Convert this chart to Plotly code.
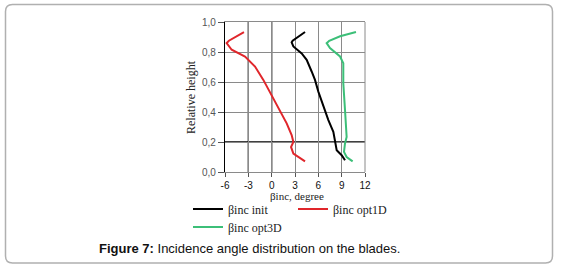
import plotly.graph_objects as go

# ---- data ----
height_init = [0.933, 0.905, 0.875, 0.864, 0.837, 0.79, 0.748, 0.67, 0.614, 0.536, 0.435, 0.346, 0.268, 0.212, 0.145, 0.112, 0.078]
beta_init = [4.29, 3.5, 2.7, 2.57, 2.79, 3.86, 4.5, 5.14, 5.57, 6.0, 6.64, 7.29, 7.93, 8.14, 8.36, 9.0, 9.43]

height_opt1d = [0.933, 0.9, 0.875, 0.859, 0.815, 0.77, 0.703, 0.614, 0.513, 0.413, 0.324, 0.246, 0.2, 0.167, 0.123, 0.071]
beta_opt1d = [-3.56, -4.6, -5.5, -5.79, -5.14, -3.43, -2.14, -1.07, 0.0, 1.07, 1.93, 2.57, 2.79, 2.49, 2.79, 4.29]

height_opt3d = [0.933, 0.905, 0.875, 0.859, 0.826, 0.77, 0.725, 0.592, 0.413, 0.234, 0.19, 0.134, 0.1, 0.071]
beta_opt3d = [10.84, 8.8, 7.4, 7.07, 7.5, 8.79, 9.21, 9.21, 9.43, 9.64, 9.43, 9.3, 9.64, 10.41]

x_ticks = [-6, -3, 0, 3, 6, 9, 12]
x_tick_labels = ["-6", "-3", "0", "3", "6", "9", "12"]
y_ticks = [0.0, 0.2, 0.4, 0.6, 0.8, 1.0]
y_tick_labels = ["0,0", "0,2", "0,4", "0,6", "0,8", "1,0"]

series_names = ["βinc init", "βinc opt1D", "βinc opt3D"]
series_colors = ["#000000", "#e0262b", "#3cbf78"]

# ---- geometry (screen pixels) ----
W, H = 562, 270
PL, PR, PT, PB = 225, 365, 22, 172  # plot area


def px(x):
    return (x - PL) / (PR - PL)


def py(y):
    return (PB - y) / (PB - PT)


fig = go.Figure()
fig.add_trace(go.Scatter(x=beta_init, y=height_init, mode="lines", name=series_names[0],
                         line=dict(color=series_colors[0], width=2), legend="legend"))
fig.add_trace(go.Scatter(x=beta_opt1d, y=height_opt1d, mode="lines", name=series_names[1],
                         line=dict(color=series_colors[1], width=2), legend="legend"))
fig.add_trace(go.Scatter(x=beta_opt3d, y=height_opt3d, mode="lines", name=series_names[2],
                         line=dict(color=series_colors[2], width=2), legend="legend2"))

shapes = []
# heavier black grid lines
for xv in [-3, 0]:
    shapes.append(dict(type="line", xref="x", yref="paper", x0=xv, x1=xv, y0=0, y1=1,
                       line=dict(color="#000000", width=1.3), layer="below"))
shapes.append(dict(type="line", xref="paper", yref="y", x0=0, x1=1, y0=0.2, y1=0.2,
                   line=dict(color="#000000", width=1.3), layer="below"))
# right edge
shapes.append(dict(type="line", xref="paper", yref="paper", x0=1, x1=1, y0=0, y1=1,
                   line=dict(color="#8a8a8a", width=1), layer="below"))

# rounded card border
x0, x1, y0, y1, r = 5.5, 552.5, 4.5, 263, 7
path = (f"M {px(x0 + r)},{py(y0)} L {px(x1 - r)},{py(y0)} Q {px(x1)},{py(y0)} {px(x1)},{py(y0 + r)} "
        f"L {px(x1)},{py(y1 - r)} Q {px(x1)},{py(y1)} {px(x1 - r)},{py(y1)} "
        f"L {px(x0 + r)},{py(y1)} Q {px(x0)},{py(y1)} {px(x0)},{py(y1 - r)} "
        f"L {px(x0)},{py(y0 + r)} Q {px(x0)},{py(y0)} {px(x0 + r)},{py(y0)} Z")
shapes.append(dict(type="path", xref="paper", yref="paper", path=path,
                   line=dict(color="#b0b0b0", width=1.5)))

serif = "Liberation Serif, Times New Roman, serif"
sans = "Liberation Sans, Arial, sans-serif"

annotations = [
    dict(text="βinc, degree", xref="paper", yref="paper", x=px(297), y=py(196),
         showarrow=False, font=dict(family=serif, size=11, color="#222"), xanchor="center", yanchor="middle"),
    dict(text="Relative height", xref="paper", yref="paper", x=px(191), y=py(97),
         showarrow=False, textangle=-90, font=dict(family=serif, size=12, color="#222"),
         xanchor="center", yanchor="middle"),
    dict(text="<b>Figure 7:</b> Incidence angle distribution on the blades.", xref="paper", yref="paper",
         x=px(97), y=py(248), showarrow=False, font=dict(family=sans, size=13, color="#111"),
         xanchor="left", yanchor="middle"),
]

fig.update_layout(
    width=W, height=H,
    margin=dict(l=PL, r=W - PR, t=PT, b=H - PB, pad=0, autoexpand=False),
    paper_bgcolor="white", plot_bgcolor="white",
    showlegend=True,
    shapes=shapes,
    annotations=annotations,
    xaxis=dict(range=[-6, 12], tickvals=x_ticks, ticktext=x_tick_labels,
               showgrid=True, gridcolor="#8a8a8a", gridwidth=1, zeroline=False,
               showline=True, linecolor="#8a8a8a", linewidth=1, mirror=True,
               ticks="outside", ticklen=4, tickcolor="#555", tickwidth=1,
               tickfont=dict(family=sans, size=10, color="#111")),
    yaxis=dict(range=[0, 1], tickvals=y_ticks, ticktext=y_tick_labels,
               showgrid=True, gridcolor="#8a8a8a", gridwidth=1, zeroline=False,
               showline=True, linecolor="#000000", linewidth=1.3,
               ticks="outside", ticklen=6, tickcolor="#555", tickwidth=1,
               tickfont=dict(family=sans, size=10, color="#555")),
    legend=dict(orientation="h", x=px(188), y=py(209), xanchor="left", yanchor="middle",
                font=dict(family=serif, size=12, color="#222"), entrywidth=60,
                bgcolor="rgba(0,0,0,0)", traceorder="normal"),
    legend2=dict(orientation="h", x=px(188), y=py(227), xanchor="left", yanchor="middle",
                 font=dict(family=serif, size=12, color="#222"),
                 bgcolor="rgba(0,0,0,0)"),
)

# remove the browser's default 8px body margin so the figure sits at the window's corner
fig.write_html("out.html", config={"displayModeBar": False},
               post_script="document.body.style.margin='0';document.body.style.overflow='hidden';")
